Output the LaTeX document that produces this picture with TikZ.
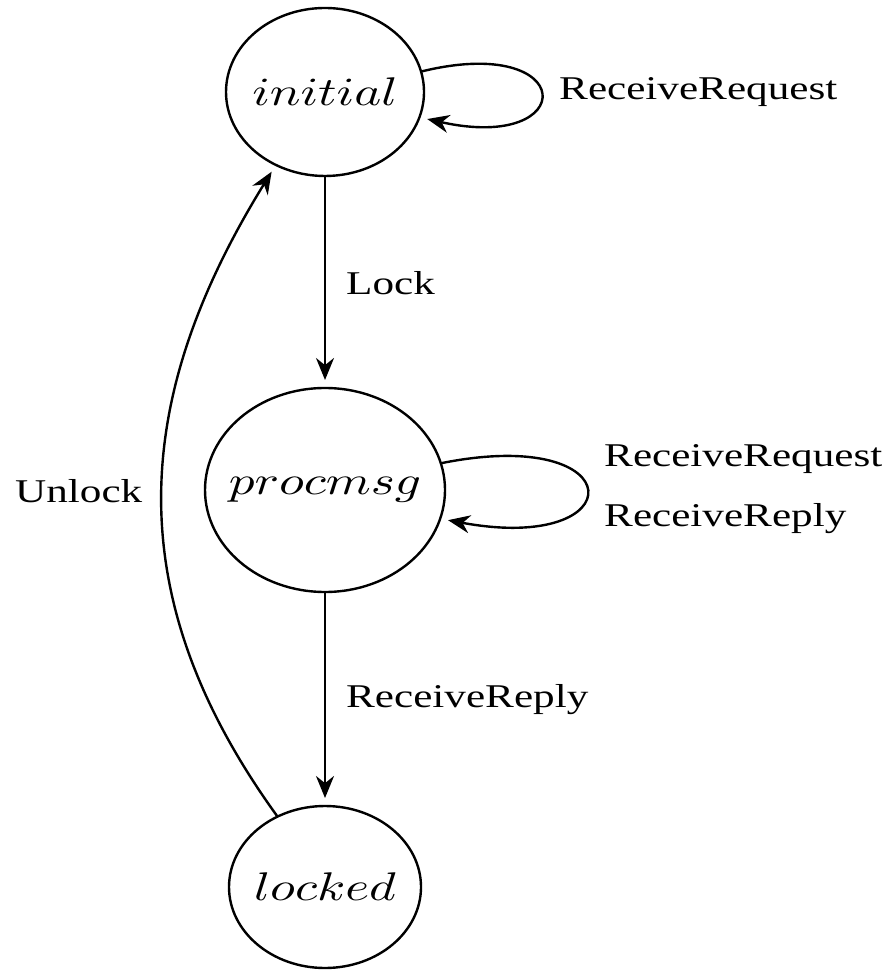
\documentclass[tikz,border=0pt]{standalone}
\usepackage{fontspec}
\usepackage{graphicx}
\newfontfamily\lblfont[FakeStretch=1.3]{Liberation Serif}
\usetikzlibrary{shapes.geometric,arrows.meta}
% state names: math italic, widened, with no width so the ellipse keeps its set size
\newcommand{\statename}[1]{\makebox[0pt]{\scalebox{1.28}[1]{$#1$}}}

\begin{document}
\begin{tikzpicture}[x=0.25pt,y=-0.25pt,line width=0.6pt,
  state/.style={draw,ellipse,inner sep=0pt,outer sep=0pt},
  trans/.style={-{Stealth[length=5.5pt,width=4.5pt]},shorten >=2pt},
  lbl/.style={font=\lblfont\fontsize{8.3}{10}\selectfont,inner sep=0pt,anchor=base west}]
\useasboundingbox (0,0) rectangle (887,970);

% states
\node[state,minimum width=49.5pt,minimum height=42pt] (initial) at (325,92) {\statename{initial}};
\node[state,minimum width=60pt,minimum height=51pt] (procmsg) at (325,490) {\statename{procmsg}};
\node[state,minimum width=48pt,minimum height=40.5pt] (locked) at (325,887) {\statename{locked}};

% transitions
\draw[trans] (initial) -- (procmsg);
\draw[trans] (procmsg) -- (locked);
\draw[trans] (locked.124) .. controls (117,595) and (132,398) .. (initial.236);
\draw[trans] (initial.12) .. controls +(158,-39) and +(161,36) .. (initial.-15);
\draw[trans] (procmsg.13) .. controls +(193,-39) and +(194,36) .. (procmsg.-14);

% transition labels
\node[lbl] (lbl-init-loop) at (558,100) {ReceiveRequest};
\node[lbl] (lbl-lock) at (345,295) {Lock};
\node[lbl] (lbl-proc-loop-a) at (603,467) {ReceiveRequest};
\node[lbl] (lbl-proc-loop-b) at (603,527) {ReceiveReply};
\node[lbl] (lbl-reply) at (345,707) {ReceiveReply};
\node[lbl] (lbl-unlock) at (14,503) {Unlock};
\end{tikzpicture}
\end{document}
